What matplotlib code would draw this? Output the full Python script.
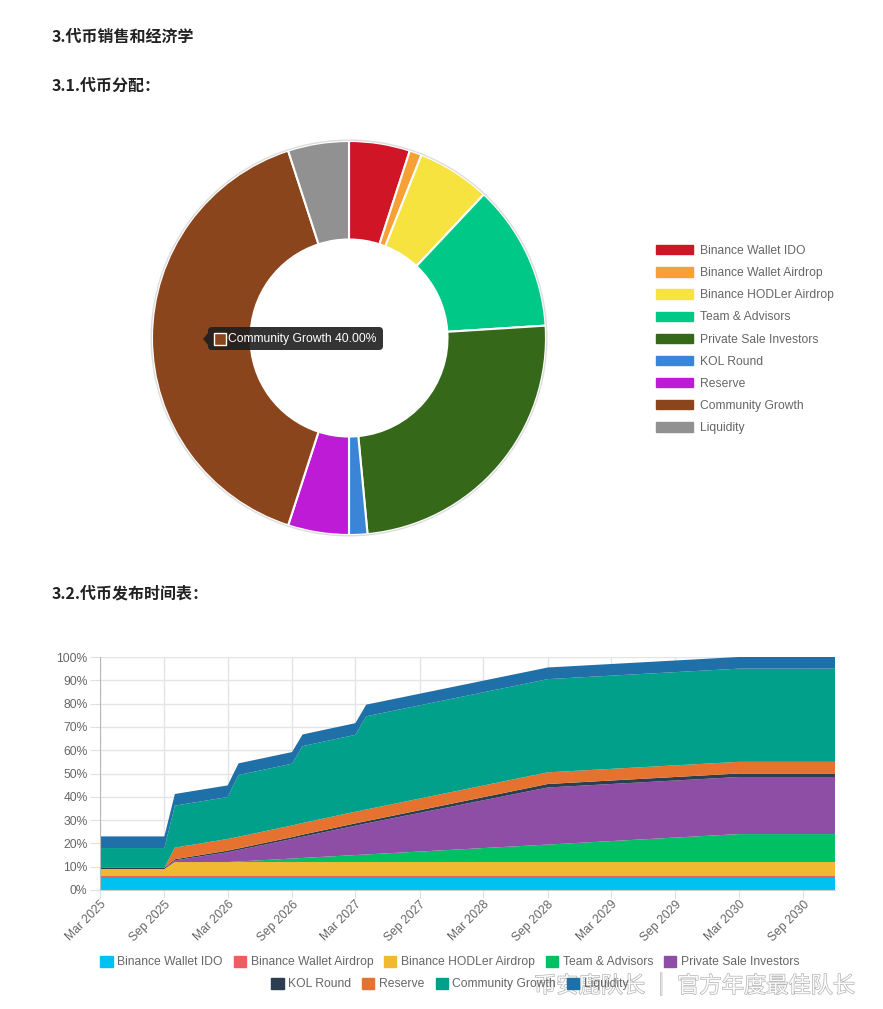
import numpy as np
import matplotlib
matplotlib.use('Agg')
import matplotlib.pyplot as plt
import matplotlib.dates as mdates
import matplotlib.patheffects as pe
from matplotlib.patches import Patch, FancyBboxPatch, Rectangle, Polygon
from matplotlib.transforms import IdentityTransform

W, H = 883, 1009
plt.rcParams['font.family'] = ['Liberation Sans', 'Noto Sans CJK SC', 'DejaVu Sans']

# --- token distribution (donut) ---
dist_labels = ['Binance Wallet IDO', 'Binance Wallet Airdrop', 'Binance HODLer Airdrop',
               'Team & Advisors', 'Private Sale Investors', 'KOL Round', 'Reserve',
               'Community Growth', 'Liquidity']
dist_values = [5, 1, 6, 12, 24.5, 1.5, 5, 40, 5]
dist_colors = ['#d01526', '#f7a035', '#f7e33f', '#00c886', '#36681a',
               '#3a85d6', '#bd1bd6', '#8b451c', '#919191']

# --- release schedule (cumulative % of supply unlocked per allocation) ---
release_dates = ['2025-03-01', '2025-09-01', '2025-10-01', '2026-03-01', '2026-04-01',
                 '2026-09-01', '2026-10-01', '2027-03-01', '2027-04-01', '2028-09-01',
                 '2030-03-01', '2030-12-01']
ido       = [5, 5, 5, 5, 5, 5, 5, 5, 5, 5, 5, 5]
airdrop   = [1, 1, 1, 1, 1, 1, 1, 1, 1, 1, 1, 1]
hodler    = [3, 3, 6, 6, 6, 6, 6, 6, 6, 6, 6, 6]
team      = [0, 0, 0, 0, 0.25, 1.5, 1.75, 3, 3.25, 7.5, 12, 12]
private   = [0, 0, 0.7, 4.2, 4.9, 8.4, 9.1, 12.6, 13.3, 24.5, 24.5, 24.5]
kol       = [0.5, 0.5, 0.5, 0.7, 0.7, 0.8, 0.9, 1.0, 1.0, 1.5, 1.5, 1.5]
reserve   = [0, 0, 5, 5, 5, 5, 5, 5, 5, 5, 5, 5]
community = [8.5, 8.5, 18, 18, 26.5, 26.5, 33, 33, 40, 40, 40, 40]
liquidity = [5, 5, 5, 5, 5, 5, 5, 5, 5, 5, 5, 5]
area_labels = dist_labels
area_colors = ['#00c2f0', '#ee5d62', '#f0b930', '#00c064', '#8e4ea6',
               '#2c3e50', '#e6722f', '#00a08a', '#1f6fa8']


def px(x):
    return x / W


def py(y):
    return 1 - y / H


fig = plt.figure(figsize=(W / 100, H / 100), dpi=100)
fig.patch.set_facecolor('white')

head = dict(fontsize=11.5, fontweight='bold', color='#222222',
            family=['Noto Sans CJK SC', 'DejaVu Sans'], va='center')
fig.text(px(52), py(37), '3.代币销售和经济学', **head)
fig.text(px(52), py(86), '3.1.代币分配：', **head)
fig.text(px(52), py(594), '3.2.代币发布时间表：', **head)

# donut
ax1 = fig.add_axes([px(149), py(538), 400 / W, 400 / H])
ax1.pie(dist_values, colors=dist_colors, startangle=90, counterclock=False,
        wedgeprops=dict(width=0.5, edgecolor='white', linewidth=1.5))
ax1.add_patch(plt.Circle((0, 0), 1.004, fill=False, ec='#dddddd', lw=1))
r = 200 / 197
ax1.set_xlim(-r, r)
ax1.set_ylim(-r, r)
ax1.set_aspect('equal')
ax1.axis('off')

fig.legend(handles=[Patch(fc=c, ec=c) for c in dist_colors], labels=dist_labels,
           loc='upper left', bbox_to_anchor=(px(656), py(245)), frameon=False,
           fontsize=8.7, labelcolor='#666666', handlelength=3.1, handleheight=0.8,
           handletextpad=0.55, labelspacing=0.84, borderpad=0, borderaxespad=0)

# tooltip
ident = IdentityTransform()
fig.add_artist(FancyBboxPatch((208, H - 350), 175, 23, boxstyle='round,pad=0,rounding_size=4',
                              fc='#1e1e1e', ec='none', alpha=0.9, transform=ident))
fig.add_artist(Polygon([(208, H - 333), (203, H - 339), (208, H - 345)],
                       fc='#1e1e1e', ec='none', alpha=0.9, transform=ident))
fig.add_artist(Rectangle((214, H - 345), 12, 12, fc=dist_colors[7], ec='white', lw=1,
                         transform=ident))
fig.text(px(228), py(339), 'Community Growth 40.00%', color='white', fontsize=8.7,
         va='center', ha='left')

# stacked area
ax2 = fig.add_axes([px(100), py(890), (835 - 100) / W, (890 - 657) / H])
x = np.array(release_dates, dtype='datetime64[D]')
series = [ido, airdrop, hodler, team, private, kol, reserve, community, liquidity]
ax2.stackplot(x, *series, colors=area_colors, linewidth=0)
ax2.set_xlim(x[0], x[-1])
ax2.set_ylim(0, 100)
ax2.set_yticks(range(0, 101, 10))
ax2.set_yticklabels([f'{v}%' for v in range(0, 101, 10)])
ax2.xaxis.set_major_locator(mdates.MonthLocator(bymonth=[3, 9]))
ax2.xaxis.set_major_formatter(mdates.DateFormatter('%b %Y'))
ax2.grid(color='#e4e4e4', linewidth=1)
ax2.set_axisbelow(True)
for s in ['top', 'right']:
    ax2.spines[s].set_visible(False)
ax2.spines['left'].set_color('#b8b8b8')
ax2.spines['bottom'].set_color('#d0d0d0')
ax2.tick_params(length=7, color='#e0e0e0', labelcolor='#666666', labelsize=8.7, pad=2)
ax2.tick_params(axis='x', length=6, pad=0)
for lab in ax2.get_xticklabels():
    lab.set_rotation(45)
    lab.set_ha('right')
    lab.set_va('top')
    lab.set_rotation_mode('anchor')

handles = [Patch(fc=c, ec=c) for c in area_colors]
leg_kw = dict(frameon=False, fontsize=8.7, labelcolor='#666666', handlelength=1.0,
              handleheight=1.05, handletextpad=0.4, columnspacing=0.9, borderpad=0,
              borderaxespad=0, loc='center')
fig.legend(handles=handles[:5], labels=area_labels[:5], ncol=5,
           bbox_to_anchor=(px(450), py(962)), **leg_kw)
fig.legend(handles=handles[5:], labels=area_labels[5:], ncol=4,
           bbox_to_anchor=(px(450), py(984)), **leg_kw)

# watermark (overlaps the legend in the source image as well)
fig.text(px(534), py(986), '币安鹿队长 ｜ 官方年度最佳队长', fontsize=16, color='white',
         family=['Noto Sans CJK SC', 'DejaVu Sans'], va='center', ha='left', alpha=0.95,
         path_effects=[pe.withStroke(linewidth=1.0, foreground='#b0b0b0')])

fig.savefig('out.png', dpi=100)
